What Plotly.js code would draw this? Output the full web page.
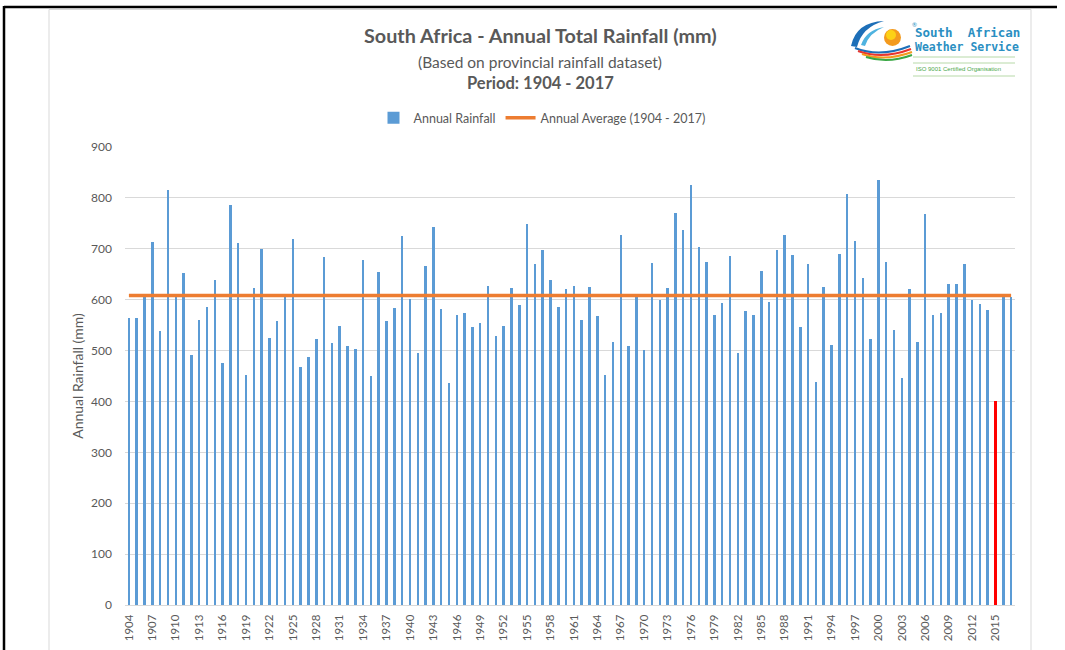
<!DOCTYPE html>
<html>
<head>
<meta charset="utf-8">
<script src="https://cdn.plot.ly/plotly-3.0.1.min.js"></script>
<style>
  html, body { margin: 0; padding: 0; background: #ffffff; }
  #chart { width: 1065px; height: 650px; }
</style>
</head>
<body>
<div id="chart"></div>
<script>
// ---- Data ----
const years = [
  1904,1905,1906,1907,1908,1909,1910,1911,1912,1913,1914,1915,1916,1917,1918,1919,1920,1921,1922,1923,
  1924,1925,1926,1927,1928,1929,1930,1931,1932,1933,1934,1935,1936,1937,1938,1939,1940,1941,1942,1943,
  1944,1945,1946,1947,1948,1949,1950,1951,1952,1953,1954,1955,1956,1957,1958,1959,1960,1961,1962,1963,
  1964,1965,1966,1967,1968,1969,1970,1971,1972,1973,1974,1975,1976,1977,1978,1979,1980,1981,1982,1983,
  1984,1985,1986,1987,1988,1989,1990,1991,1992,1993,1994,1995,1996,1997,1998,1999,2000,2001,2002,2003,
  2004,2005,2006,2007,2008,2009,2010,2011,2012,2013,2014,2015,2016,2017
];
const annualRainfall = [
  564,564,606,714,538,816,611,652,492,561,586,639,475,787,711,451,622,700,525,559,
  605,720,467,488,523,683,514,548,509,504,677,450,654,559,583,726,601,496,666,742,
  581,436,569,573,547,555,626,528,549,622,589,748,670,698,639,586,621,626,561,624,
  568,451,517,727,509,605,502,672,600,623,770,737,826,704,674,569,593,685,496,578,
  570,657,596,697,727,687,546,670,439,624,511,689,807,716,642,522,835,674,540,446,
  621,517,768,570,574,631,631,671,600,591,580,401,605,605
];
const averageYears = [1904, 2017];
const averageValue = [608, 608];
const highlightYear = 2015;
const tickYears = [1904,1907,1910,1913,1916,1919,1922,1925,1928,1931,1934,1937,1940,1943,1946,1949,1952,1955,
  1958,1961,1964,1967,1970,1973,1976,1979,1982,1985,1988,1991,1994,1997,2000,2003,2006,2009,2012,2015];
const yTicks = [0,100,200,300,400,500,600,700,800,900];

// ---- Layout helpers (pixel -> paper) ----
const L = 125, T = 147, W = 890, H = 458;
const px = x => (x - L) / W;
const py = y => (T + H - y) / H;
const P = (x, y) => px(x).toFixed(5) + ',' + py(y).toFixed(5);

const BLUE = '#5b9bd5', ORANGE = '#ed7d31', TXT = '#595959';
const FONT = 'Lato, "Open Sans", sans-serif';

const barColors = years.map(y => y === highlightYear ? '#ff0000' : BLUE);

const traces = [
  {
    type: 'bar', x: years, y: annualRainfall, name: 'Annual Rainfall',
    width: 0.32, marker: { color: barColors, line: { width: 0 } },
    hoverinfo: 'x+y'
  },
  {
    type: 'scatter', mode: 'lines', x: averageYears, y: averageValue,
    name: 'Annual Average (1904 - 2017)',
    line: { color: ORANGE, width: 3.5 }
  }
];

const shapes = [
  // outer black frame (top & left)
  { type: 'line', xref: 'paper', yref: 'paper', x0: px(4), x1: px(1057), y0: py(7), y1: py(7), line: { color: '#000', width: 2.5 } },
  { type: 'line', xref: 'paper', yref: 'paper', x0: px(4), x1: px(4), y0: py(6), y1: py(655), line: { color: '#000', width: 2.5 } },
  // inner light-grey chart border
  { type: 'rect', xref: 'paper', yref: 'paper', x0: px(49), x1: px(1031), y0: py(9.5), y1: py(700), line: { color: '#d9d9d9', width: 1 }, fillcolor: 'rgba(0,0,0,0)', layer: 'below' },
  // logo: swooshes
  { type: 'path', xref: 'paper', yref: 'paper', path: 'M' + P(851, 46) + ' Q' + P(856, 22) + ' ' + P(884, 21) + ' Q' + P(862, 27) + ' ' + P(857, 47) + ' Z', fillcolor: '#1d6fb8', line: { width: 0 } },
  { type: 'path', xref: 'paper', yref: 'paper', path: 'M' + P(861, 45) + ' Q' + P(866, 30) + ' ' + P(884, 27) + ' Q' + P(869, 33) + ' ' + P(865, 46) + ' Z', fillcolor: '#4fb3e0', line: { width: 0 } },
  { type: 'circle', xref: 'paper', yref: 'paper', x0: px(884), x1: px(901), y0: py(29), y1: py(46), fillcolor: '#f39a1e', line: { width: 0 } },
  { type: 'circle', xref: 'paper', yref: 'paper', x0: px(886), x1: px(896), y0: py(30), y1: py(40), fillcolor: '#fcd116', line: { width: 0 } },
  { type: 'path', xref: 'paper', yref: 'paper', path: 'M' + P(855, 48) + ' Q' + P(880, 58) + ' ' + P(910, 46), line: { color: '#1d6fb8', width: 2 } },
  { type: 'path', xref: 'paper', yref: 'paper', path: 'M' + P(858, 51) + ' Q' + P(882, 60) + ' ' + P(911, 49), line: { color: '#e8352e', width: 2 } },
  { type: 'path', xref: 'paper', yref: 'paper', path: 'M' + P(862, 54) + ' Q' + P(885, 62) + ' ' + P(912, 52), line: { color: '#f39a1e', width: 2 } },
  { type: 'path', xref: 'paper', yref: 'paper', path: 'M' + P(866, 57) + ' Q' + P(888, 64) + ' ' + P(912, 55), line: { color: '#3aa845', width: 2 } },
  // logo rules
  { type: 'line', xref: 'paper', yref: 'paper', x0: px(913), x1: px(1015), y0: py(57), y1: py(57), line: { color: '#b7d9a8', width: 1 } },
  { type: 'line', xref: 'paper', yref: 'paper', x0: px(913), x1: px(1015), y0: py(63), y1: py(63), line: { color: '#b7d9a8', width: 1 } },
  { type: 'line', xref: 'paper', yref: 'paper', x0: px(913), x1: px(1015), y0: py(76), y1: py(76), line: { color: '#b7d9a8', width: 1 } }
];

const ann = (text, x, y, size, bold, color, font, anchor) => ({
  xref: 'paper', yref: 'paper', x: px(x), y: py(y), xanchor: anchor || 'center', yanchor: 'middle',
  showarrow: false, text: bold ? '<b>' + text + '</b>' : text,
  font: { family: font || FONT, size: size, color: color || TXT }
});

const annotations = [
  ann('South Africa - Annual Total Rainfall (mm)', 540, 35, 19.8, true),
  ann('(Based on provincial rainfall dataset)', 540, 62, 15.5, false),
  ann('Period: 1904 - 2017', 540, 83, 16.5, true),
  ann('South  African', 913, 33, 12.5, true, '#2b8fc2', '"DejaVu Sans Mono", monospace', 'left'),
  ann('Weather Service', 913, 47, 11.5, true, '#2b8fc2', '"DejaVu Sans Mono", monospace', 'left'),
  ann('ISO 9001 Certified Organisation', 914, 69.5, 6, false, '#4aa84a', 'Liberation Sans Narrow, sans-serif', 'left'),
  ann('®', 910, 25, 6, false, '#2b8fc2', FONT, 'left')
];

const layout = {
  width: 1065, height: 650,
  margin: { l: L, r: 1065 - L - W, t: T, b: 650 - T - H, pad: 0 },
  paper_bgcolor: '#ffffff', plot_bgcolor: '#ffffff',
  font: { family: FONT, color: TXT, size: 12 },
  showlegend: true,
  legend: {
    orientation: 'h', xref: 'paper', yref: 'paper', x: px(542), xanchor: 'center', y: py(118), yanchor: 'middle',
    font: { family: FONT, size: 12.5, color: TXT }, itemwidth: 30, bgcolor: 'rgba(0,0,0,0)'
  },
  bargap: 0,
  xaxis: {
    type: 'linear', range: [1903.5, 2017.5], tickmode: 'array', tickvals: tickYears,
    ticktext: tickYears.map(String), tickangle: -90, ticks: '', showgrid: false, zeroline: false,
    showline: true, linecolor: '#d9d9d9', linewidth: 1, automargin: false,
    tickfont: { family: FONT, size: 11.5, color: TXT }, ticklabelstandoff: 4, fixedrange: true
  },
  yaxis: {
    range: [0, 900], tickmode: 'array', tickvals: yTicks, ticks: '', showgrid: true, gridcolor: '#d9d9d9',
    gridwidth: 1, zeroline: false, showline: false, automargin: false,
    tickfont: { family: FONT, size: 12, color: TXT }, ticklabelstandoff: 12,
    title: { text: 'Annual Rainfall (mm)', font: { family: FONT, size: 14, color: TXT }, standoff: 4 },
    fixedrange: true
  },
  shapes: shapes,
  annotations: annotations
};

Plotly.newPlot('chart', traces, layout, { displayModeBar: false, staticPlot: true });
</script>
</body>
</html>
